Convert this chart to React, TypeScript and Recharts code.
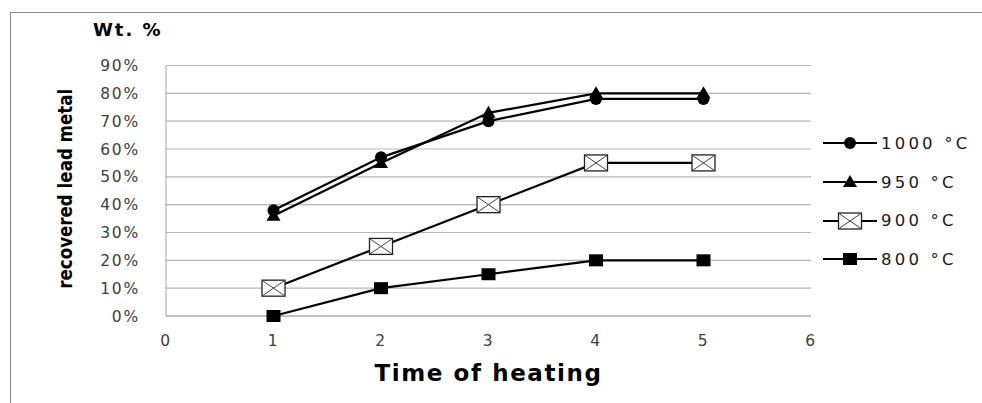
import React from 'react';
import { LineChart, Line, XAxis, YAxis, CartesianGrid } from 'recharts';

const hours = [1, 2, 3, 4, 5];
const t1000 = [38, 57, 70, 78, 78];
const t950 = [36, 55, 73, 80, 80];
const t900 = [10, 25, 40, 55, 55];
const t800 = [0, 10, 15, 20, 20];
const xTicks = [0, 1, 2, 3, 4, 5, 6];
const yTicks = [0, 10, 20, 30, 40, 50, 60, 70, 80, 90];

const data = hours.map((h, i) => ({
  h,
  t1000: t1000[i],
  t950: t950[i],
  t900: t900[i],
  t800: t800[i],
}));

const tickFont = { fontFamily: 'DejaVu Sans', fontSize: 15.5, fill: '#404040', letterSpacing: 1.8 };

const Marker = ({ kind, cx, cy }: { kind: string; cx: number; cy: number }) => {
  if (kind === 'circle') return <circle cx={cx} cy={cy} r={6} fill="#000" />;
  if (kind === 'triangle')
    return <polygon points={`${cx},${cy - 7} ${cx + 7},${cy + 5} ${cx - 7},${cy + 5}`} fill="#000" />;
  if (kind === 'box')
    return (
      <g>
        <rect x={cx - 11.5} y={cy - 8} width={23} height={16} fill="#fff" stroke="#222" strokeWidth={1.3} />
        <line x1={cx - 11} y1={cy - 7.5} x2={cx + 11} y2={cy + 7.5} stroke="#444" strokeWidth={1} />
        <line x1={cx + 11} y1={cy - 7.5} x2={cx - 11} y2={cy + 7.5} stroke="#444" strokeWidth={1} />
      </g>
    );
  return <rect x={cx - 7} y={cy - 6} width={14} height={12} fill="#000" />;
};

const series = [
  { key: 't1000', name: '1000 °C', kind: 'circle' },
  { key: 't950', name: '950 °C', kind: 'triangle' },
  { key: 't900', name: '900 °C', kind: 'box' },
  { key: 't800', name: '800 °C', kind: 'square' },
];

const LegendBox = () => (
  <div style={{ position: 'absolute', left: 820, top: 124 }}>
    {series.map((s) => (
      <div key={s.key} style={{ display: 'flex', alignItems: 'center', height: 38.7 }}>
        <svg width={61} height={20}>
          <line x1={3} y1={10} x2={57} y2={10} stroke="#000" strokeWidth={2.2} />
          <Marker kind={s.kind} cx={30} cy={10} />
        </svg>
        <span style={{ fontFamily: 'DejaVu Sans', fontSize: 16.5, color: '#1a1a1a', letterSpacing: 3.2 }}>
          {s.name}
        </span>
      </div>
    ))}
  </div>
);

const YLabel = (props: any) => {
  const { viewBox } = props;
  const cx = 65;
  const cy = viewBox.y + viewBox.height / 2 - 2;
  return (
    <text
      x={cx}
      y={cy}
      transform={`rotate(-90 ${cx} ${cy})`}
      textAnchor="middle"
      dominantBaseline="central"
      fontFamily="Liberation Sans Narrow, DejaVu Sans Condensed, Liberation Sans"
      fontSize={20}
      fontWeight="bold"
      fill="#000"
      textLength={200}
      lengthAdjust="spacingAndGlyphs"
    >
      recovered lead metal
    </text>
  );
};

export default function App() {
  return (
    <div style={{ position: 'absolute', left: 0, top: 0, width: 982, height: 403, background: '#fff' }}>
      <div style={{ position: 'absolute', left: 10, top: 12, right: 0, height: 1, background: '#8c8c8c' }} />
      <div style={{ position: 'absolute', left: 10, top: 12, bottom: 0, width: 1, background: '#8c8c8c' }} />
      <div
        style={{
          position: 'absolute',
          left: 93,
          top: 19,
          fontFamily: 'DejaVu Sans',
          fontWeight: 'bold',
          fontSize: 18,
          letterSpacing: 2,
          color: '#000',
        }}
      >
        Wt. %
      </div>
      <LineChart width={982} height={403} data={data} margin={{ top: 65.5, right: 171, left: 0, bottom: 0 }}>
        <CartesianGrid vertical={false} stroke="#b5b5b5" strokeWidth={1.2} />
        <XAxis
          dataKey="h"
          type="number"
          domain={[0, 6]}
          ticks={xTicks}
          interval={0}
          height={87}
          tickSize={0}
          tickMargin={19}
          tick={tickFont}
          axisLine={{ stroke: '#a6a6a6' }}
          label={{
            value: 'Time of heating',
            position: 'insideBottom',
            offset: 22,
            style: { fontFamily: 'DejaVu Sans', fontWeight: 'bold', fontSize: 23, fill: '#000', letterSpacing: 1.6 },
          }}
        />
        <YAxis
          type="number"
          domain={[0, 90]}
          ticks={yTicks}
          interval={0}
          width={166}
          tickSize={0}
          tickMargin={26}
          tick={tickFont}
          tickFormatter={(v) => `${v}%`}
          axisLine={{ stroke: '#a6a6a6' }}
          label={<YLabel />}
        />
        {series.map((s) => (
          <Line
            key={s.key}
            dataKey={s.key}
            name={s.name}
            type="linear"
            stroke="#000"
            strokeWidth={2.2}
            isAnimationActive={false}
            dot={(p: any) => (
              <g key={`${s.key}-${p.index}`}>
                <Marker kind={s.kind} cx={p.cx} cy={p.cy} />
              </g>
            )}
            activeDot={false}
          />
        ))}
      </LineChart>
      <LegendBox />
    </div>
  );
}
